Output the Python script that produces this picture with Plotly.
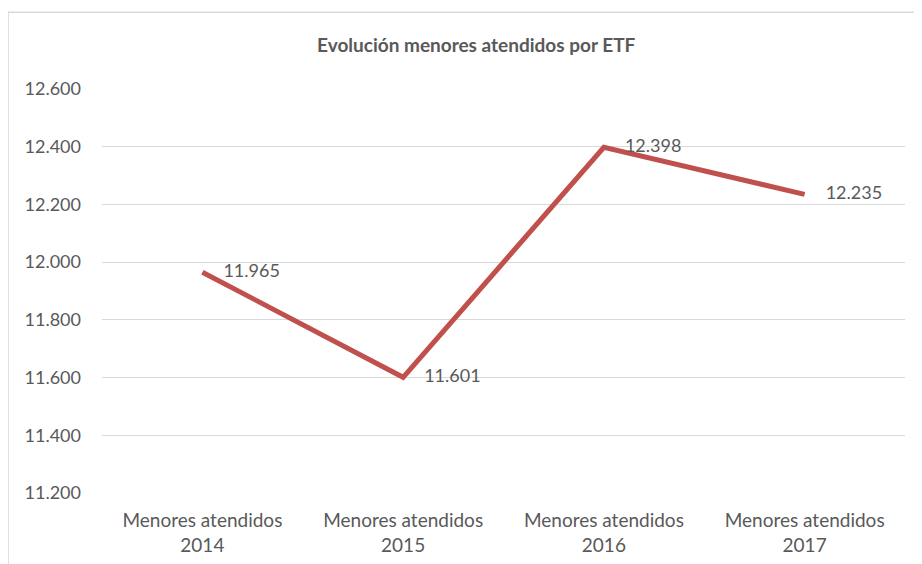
import plotly.graph_objects as go

categories = ["Menores atendidos<br>2014", "Menores atendidos<br>2015",
              "Menores atendidos<br>2016", "Menores atendidos<br>2017"]
menores = [11965, 11601, 12398, 12235]
y_ticks = [11200, 11400, 11600, 11800, 12000, 12200, 12400, 12600]

fig = go.Figure()

fig.add_traces(go.Scatter(x=categories,
                          y=menores,
                          mode="lines+markers+text",
                          line=dict(color="#C0504D", width=5),
                          marker=dict(size=32, color="rgba(0,0,0,0)"),
                          text=menores,
                          texttemplate="%{y:,d}",
                          textposition="middle right",
                          textfont=dict(family="Lato", size=18, color="#595959"),
                          hoverinfo="skip",
                          cliponaxis=False))

# chart frame like the Excel chart area
fig.add_shape(type="rect", xref="paper", yref="paper",
              x0=-0.117, x1=1.05, y0=-0.25, y1=1.19,
              line=dict(color="#D9D9D9", width=1.5), layer="below")

# page body has an 8px margin, so the figure is shifted down/right by 8px
fig.update_layout(
    width=914,
    height=556,
    margin=dict(l=94, r=17, t=81, b=71, autoexpand=False),
    paper_bgcolor="white",
    plot_bgcolor="white",
    separators=",.",
    showlegend=False,
    font=dict(family="Lato", color="#595959"),
    title={
        'text': "<b>Evolución menores atendidos por ETF</b>",
        'x': 0.466,
        'xref': 'paper',
        'y': 0.933,
        'yanchor': 'middle',
        "font": {"size": 19, "color": "#595959"}},
    xaxis=dict(
        range=[-0.5, 3.5],
        showgrid=False,
        showline=False,
        zeroline=False,
        ticklabelstandoff=14,
        tickfont=dict(family="Lato", size=19, color="#595959")),
    yaxis=dict(
        range=[11200, 12600],
        tickvals=y_ticks,
        tickformat=",d",
        showgrid=True,
        gridcolor="#D9D9D9",
        gridwidth=1,
        zeroline=False,
        showline=False,
        ticklabelstandoff=20,
        tickfont=dict(family="Lato", size=18, color="#595959"))
)

fig.write_html("out.html")
